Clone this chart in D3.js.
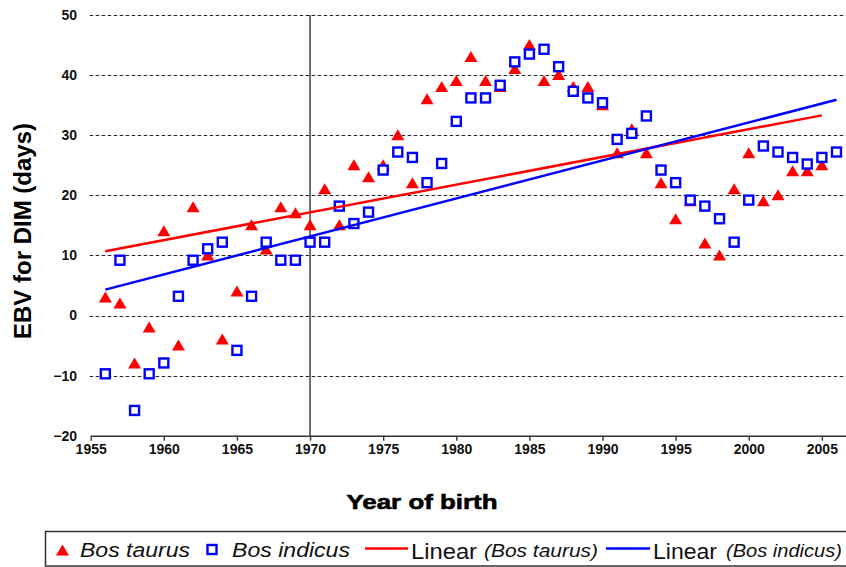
<!DOCTYPE html>
<html><head><meta charset="utf-8">
<script src="https://cdn.jsdelivr.net/npm/d3@7"></script>
<style>body{margin:0;background:#fff} svg{display:block;font-family:"Liberation Sans",Arial,sans-serif}</style>
</head><body><svg id="c" width="846" height="567"></svg>
<script>
// ---- data ----
const taurusYears = [1956,1957,1958,1959,1960,1961,1962,1963,1964,1965,1966,1967,1968,1969,1970,1971,1972,1973,1974,1975,1976,1977,1978,1979,1980,1981,1982,1983,1984,1985,1986,1987,1988,1989,1990,1991,1992,1993,1994,1995,1996,1997,1998,1999,2000,2001,2002,2003,2004,2005];
const taurusValues = [3,2,-8,-2,14,-5,18,10,-4,4,15,11,18,17,15,21,15,25,23,25,30,22,36,38,39,43,39,38,41,45,39,40,38,38,35,27,31,27,22,16,19,12,10,21,27,19,20,24,24,25];
const indicusYears = [1956,1957,1958,1959,1960,1961,1962,1963,1964,1965,1966,1967,1968,1969,1970,1971,1972,1973,1974,1975,1976,1977,1978,1979,1980,1981,1982,1983,1984,1985,1986,1987,1988,1989,1990,1991,1992,1993,1994,1995,1996,1997,1998,1999,2000,2001,2002,2003,2004,2005,2006];
const indicusValues = [-9.7,9.2,-15.8,-9.7,-7.9,3.2,9.2,11.1,12.2,-5.8,3.2,12.2,9.2,9.2,12.2,12.2,18.2,15.3,17.2,24.2,27.2,26.3,22.1,25.3,32.3,36.2,36.2,38.3,42.2,43.5,44.3,41.4,37.3,36.2,35.4,29.3,30.3,33.2,24.2,22.1,19.2,18.2,16.1,12.2,19.2,28.2,27.2,26.3,25.2,26.3,27.2];
const taurusTrendYears = [1956, 2005];
const taurusTrendValues = [10.7, 33.3];
const indicusTrendYears = [1956, 2006];
const indicusTrendValues = [4.3, 35.9];
const xTickValues = [1955,1960,1965,1970,1975,1980,1985,1990,1995,2000,2005];
const yTickValues = [-20,-10,0,10,20,30,40,50];
const verticalLineYear = 1970;

// ---- chart ----
const svg = d3.select("#c");
const x = d3.scaleLinear().domain([1955, 2006.65]).range([90.7, 846]);
const y = d3.scaleLinear().domain([-20, 50]).range([435.7, 15]);

// gridlines
svg.append("g").selectAll("line").data(yTickValues.filter(v => v > -20)).join("line")
  .attr("x1", x(1955) - 1).attr("x2", 846)
  .attr("y1", d => Math.round(y(d)) + 0.5).attr("y2", d => Math.round(y(d)) + 0.5)
  .attr("stroke", "#222").attr("stroke-width", 1.2).attr("stroke-dasharray", "3.5,2.5");

// vertical line at 1970
svg.append("line")
  .attr("x1", x(verticalLineYear)).attr("x2", x(verticalLineYear))
  .attr("y1", y(50)).attr("y2", y(-20))
  .attr("stroke", "#333").attr("stroke-width", 1.4);

// x axis
const xAxis = svg.append("g").attr("transform", `translate(0,${y(-20)})`)
  .call(d3.axisBottom(x).tickValues(xTickValues).tickSize(5).tickSizeOuter(0).tickPadding(13).tickFormat(d3.format("d")));
xAxis.select(".domain").attr("stroke", "#333").attr("stroke-width", 1.6);
xAxis.selectAll(".tick line").attr("stroke", "#333").attr("stroke-width", 1.4);
xAxis.selectAll("text").attr("font-family", "Liberation Sans, Arial, sans-serif")
  .attr("font-size", 14).attr("font-weight", "bold").attr("fill", "#111").attr("dy", null);

// y axis labels
const yAxis = svg.append("g").attr("transform", "translate(77,0)")
  .call(d3.axisLeft(y).tickValues(yTickValues).tickSize(0).tickPadding(0));
yAxis.select(".domain").remove();
yAxis.selectAll("text").attr("font-family", "Liberation Sans, Arial, sans-serif")
  .attr("font-size", 14).attr("font-weight", "bold").attr("fill", "#111");

// triangle symbol
const tri = { draw(ctx) { ctx.moveTo(0, -6); ctx.lineTo(6.5, 5); ctx.lineTo(-6.5, 5); ctx.closePath(); } };

const taurus = taurusYears.map((yr, i) => ({ yr, v: taurusValues[i] }));
const indicus = indicusYears.map((yr, i) => ({ yr, v: indicusValues[i] }));

svg.append("g").selectAll("path").data(taurus).join("path")
  .attr("d", d3.symbol(tri)())
  .attr("transform", d => `translate(${x(d.yr)},${y(d.v)})`)
  .attr("fill", "#ff0000");

svg.append("g").selectAll("rect").data(indicus).join("rect")
  .attr("x", d => x(d.yr) - 4.5).attr("y", d => y(d.v) - 4.5)
  .attr("width", 9).attr("height", 9)
  .attr("fill", "#fff").attr("stroke", "#0000ff").attr("stroke-width", 2.4);

// trend lines
const line = d3.line().x(d => x(d[0])).y(d => y(d[1]));
svg.append("path").attr("d", line(taurusTrendYears.map((yr, i) => [yr, taurusTrendValues[i]])))
  .attr("stroke", "#ff0000").attr("stroke-width", 2.5).attr("fill", "none");
svg.append("path").attr("d", line(indicusTrendYears.map((yr, i) => [yr, indicusTrendValues[i]])))
  .attr("stroke", "#0000ff").attr("stroke-width", 2.5).attr("fill", "none");

// axis titles
svg.append("text").attr("x", 422).attr("y", 509).attr("text-anchor", "middle")
  .attr("font-size", 21).attr("font-weight", "bold").attr("fill", "#000")
  .attr("textLength", 151).attr("lengthAdjust", "spacingAndGlyphs")
  .style("paint-order", "stroke").attr("stroke", "#000").attr("stroke-width", 0.6)
  .text("Year of birth");

svg.append("text").attr("transform", "translate(31,231) rotate(-90)").attr("text-anchor", "middle")
  .attr("font-size", 24).attr("font-weight", "bold").attr("fill", "#000")
  .attr("textLength", 216).attr("lengthAdjust", "spacingAndGlyphs")
  .text("EBV for DIM (days)");

// legend
const lg = svg.append("g");
lg.append("rect").attr("x", 45.5).attr("y", 531.5).attr("width", 860).attr("height", 34.5)
  .attr("fill", "#fff").attr("stroke", "#333").attr("stroke-width", 1.5);
lg.append("path").attr("d", d3.symbol(tri)()).attr("transform", "translate(62.5,550.5)").attr("fill", "#ff0000");
lg.append("rect").attr("x", 207.5).attr("y", 545).attr("width", 9).attr("height", 9)
  .attr("fill", "#fff").attr("stroke", "#0000ff").attr("stroke-width", 2.4);
lg.append("line").attr("x1", 365).attr("x2", 408).attr("y1", 548.5).attr("y2", 548.5).attr("stroke", "#ff0000").attr("stroke-width", 2.5);
lg.append("line").attr("x1", 606).attr("x2", 650).attr("y1", 548.5).attr("y2", 548.5).attr("stroke", "#0000ff").attr("stroke-width", 2.5);

const legendTexts = [
  { t: "Bos taurus", x0: 80, w: 110, fs: 20, it: true, base: 557 },
  { t: "Bos indicus", x0: 232, w: 118, fs: 20, it: true, base: 557 },
  { t: "Linear", x0: 411, w: 66, fs: 22, it: false, base: 558.5 },
  { t: "(Bos taurus)", x0: 484, w: 114, fs: 18, it: true, base: 557 },
  { t: "Linear", x0: 653, w: 64, fs: 22, it: false, base: 558.5 },
  { t: "(Bos indicus)", x0: 726, w: 116, fs: 18, it: true, base: 557 }
];
lg.selectAll("text.lt").data(legendTexts).join("text").attr("class", "lt")
  .attr("x", d => d.x0).attr("y", d => d.base)
  .attr("font-size", d => d.fs).attr("font-style", d => d.it ? "italic" : "normal")
  .attr("fill", "#111").attr("textLength", d => d.w).attr("lengthAdjust", "spacingAndGlyphs")
  .text(d => d.t);
</script></body></html>
